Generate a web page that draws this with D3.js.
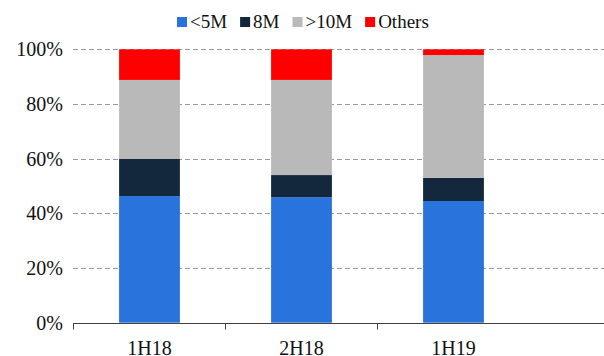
<!DOCTYPE html>
<html><head><meta charset="utf-8">
<script src="https://cdn.jsdelivr.net/npm/d3@7"></script>
</head><body style="margin:0">
<svg id="c" width="604" height="356"></svg>
<script>
const categories = ["1H18", "2H18", "1H19"];
const seriesNames = ["<5M", "8M", ">10M", "Others"];
const under5M = [46.3, 45.9, 44.5];
const eightM = [13.7, 8.1, 8.5];
const over10M = [28.8, 34.8, 44.9];
const others = [11.2, 11.2, 2.1];
const yTicks = [0, 20, 40, 60, 80, 100];
const colors = ["#2874DC", "#13273D", "#B9B9B9", "#FF0000"];

const svg = d3.select("#c");
const mLeft = 73, bandW = 152, mTop = 49.3, mBottom = 322.7;
const x = d3.scaleBand().domain(categories).range([mLeft, mLeft + bandW * categories.length]).paddingInner(0.6).paddingOuter(0.3);
const y = d3.scaleLinear().domain([0, 100]).range([mBottom, mTop]);

const rows = categories.map((c, i) => ({cat: c, "<5M": under5M[i], "8M": eightM[i], ">10M": over10M[i], "Others": others[i]}));
const stacked = d3.stack().keys(seriesNames)(rows);

// gridlines
svg.append("g").selectAll("line").data(yTicks.filter(d => d > 0)).join("line")
  .attr("x1", mLeft).attr("x2", 604)
  .attr("y1", d => Math.round(y(d)) + 0.5).attr("y2", d => Math.round(y(d)) + 0.5)
  .attr("stroke", "#9a9a9a").attr("stroke-width", 1).attr("stroke-dasharray", "5,3");

// y labels
svg.append("g").selectAll("text").data(yTicks).join("text")
  .attr("x", mLeft - 10).attr("y", d => y(d)).attr("dy", "0.35em")
  .attr("text-anchor", "end").attr("font-size", 20).attr("fill", "#111")
  .text(d => d + "%");

// bars
svg.append("g").selectAll("g").data(stacked).join("g")
  .attr("fill", (d, i) => colors[i])
  .selectAll("rect").data(d => d).join("rect")
  .attr("x", d => x(d.data.cat) + 0.5).attr("width", x.bandwidth())
  .attr("y", d => y(d[1])).attr("height", d => y(d[0]) - y(d[1]));

// x axis
const axisY = Math.round(mBottom) + 0.5;
svg.append("line").attr("x1", mLeft).attr("x2", 604).attr("y1", axisY).attr("y2", axisY)
  .attr("stroke", "#404040").attr("stroke-width", 1);
const tickXs = categories.map(c => x(c) - x.step() * x.paddingOuter());
svg.append("g").selectAll("line").data(tickXs).join("line")
  .attr("x1", d => Math.round(d) + 0.5).attr("x2", d => Math.round(d) + 0.5)
  .attr("y1", axisY).attr("y2", axisY + 6).attr("stroke", "#404040");
svg.append("g").selectAll("text").data(categories).join("text")
  .attr("x", d => x(d) + x.bandwidth() / 2 + 0.5).attr("y", 355)
  .attr("text-anchor", "middle").attr("font-size", 20).attr("fill", "#111").text(d => d);

// legend
const lg = svg.append("g");
let lx = 177;
seriesNames.forEach((n, i) => {
  lg.append("rect").attr("x", lx).attr("y", 17).attr("width", 10).attr("height", 10).attr("fill", colors[i]);
  const t = lg.append("text").attr("x", lx + 13).attr("y", 28).attr("font-size", 19).attr("fill", "#111").text(n);
  lx += 13 + t.node().getComputedTextLength() + 13;
});
</script></body></html>
